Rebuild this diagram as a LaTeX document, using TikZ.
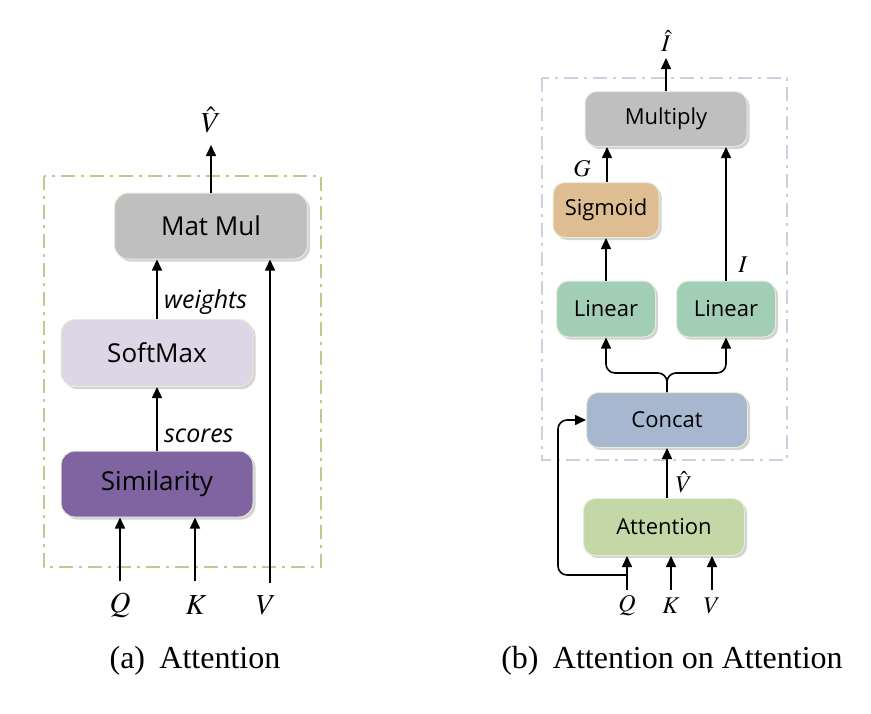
\documentclass[tikz,border=0pt]{standalone}
\usepackage{mathptmx}
\usepackage[no-math]{fontspec}
\setmainfont{Liberation Serif}
\newfontfamily\boxfont{Open Sans}
\usetikzlibrary{arrows.meta,shadows}

\definecolor{boxgray}{HTML}{BFBFBF}
\definecolor{softlav}{HTML}{DCD6E6}
\definecolor{simpurple}{HTML}{8064A2}
\definecolor{sigtan}{HTML}{DFBD93}
\definecolor{lingreen}{HTML}{A3CEB6}
\definecolor{catblue}{HTML}{A6B7CF}
\definecolor{attgreen}{HTML}{C4D7A6}
\definecolor{framegreen}{HTML}{B9CC8E}
\definecolor{frameblue}{HTML}{C8D3DF}
\definecolor{glow}{HTML}{E8ECD6}

\begin{document}
\begin{tikzpicture}
[x=1pt,y=-1pt,%
  arr/.style={-{Triangle[length=11pt,width=10pt]},line width=1.6pt},%
  block/.style={rounded corners=14pt,inner sep=0pt,draw=glow,line width=1pt,
    drop shadow={opacity=0.35,shadow xshift=2.5pt,shadow yshift=-2.5pt}},%
  bigblock/.style={block,font=\boxfont\fontsize{26}{30}\selectfont},%
  smallblock/.style={block,rounded corners=12pt,font=\boxfont\fontsize{22}{26}\selectfont},%
  symbig/.style={inner sep=0pt,font=\fontsize{29}{31}\selectfont},%
  symsmall/.style={inner sep=0pt,font=\fontsize{24}{26}\selectfont},%
  flowlabel/.style={inner sep=0pt,anchor=west,font=\boxfont\itshape\fontsize{25}{28}\selectfont},%
  caption/.style={inner sep=0pt,font=\fontsize{32}{36}\selectfont}]
\useasboundingbox (0,0) rectangle (871,713);

% (a) attention
\draw[framegreen,line width=1.8pt,dash pattern=on 14pt off 6pt on 3pt off 6pt]
  (44,176) rectangle (321,567);
\node[bigblock,fill=boxgray,minimum width=193pt,minimum height=66pt] (matmul) at (211,226) {Mat Mul};
\node[bigblock,fill=softlav,minimum width=192pt,minimum height=67pt] (softmax) at (157,353) {SoftMax};
\node[bigblock,fill=simpurple,minimum width=192pt,minimum height=66pt] (sim) at (157,484) {Similarity};

\coordinate (outa) at (211,145);
\coordinate (qa) at (120,581);
\coordinate (ka) at (195,581);
\coordinate (va) at (270,583);
\node[symbig] at (211,120) {$\hat{V}$};
\node[symbig] at (120,605) {$Q$};
\node[symbig] at (196,605) {$K$};
\node[symbig] at (266,605) {$V$};

\draw[arr] (matmul.north) -- (outa);
\draw[arr] (softmax.north) -- (matmul.south -| softmax.north);
\draw[arr] (sim.north) -- (softmax.south);
\draw[arr] (qa) -- (sim.south -| qa);
\draw[arr] (ka) -- (sim.south -| ka);
\draw[arr] (va) -- (matmul.south -| va);
\node[flowlabel] at (164,302) {weights};
\node[flowlabel] at (164,436) {scores};

\node[caption] at (195,661) {(a)\hspace{0.45em}Attention};

% (b) attention on attention
\draw[frameblue,line width=1.4pt,dash pattern=on 14pt off 6pt on 3pt off 6pt]
  (542,78) rectangle (787,460);
\node[smallblock,fill=boxgray,minimum width=162pt,minimum height=55pt] (mult) at (666,119) {Multiply};
\node[smallblock,fill=sigtan,minimum width=106pt,minimum height=55pt] (sigm) at (606,210) {Sigmoid};
\node[smallblock,fill=lingreen,minimum width=99pt,minimum height=56pt] (linl) at (606,309) {Linear};
\node[smallblock,fill=lingreen,minimum width=99pt,minimum height=56pt] (linr) at (726,309) {Linear};
\node[smallblock,fill=catblue,minimum width=161pt,minimum height=55pt] (concat) at (667,420) {Concat};
\node[smallblock,fill=attgreen,minimum width=161pt,minimum height=57pt] (att) at (664,527) {Attention};

\coordinate (outb) at (666,58);
\coordinate (split) at (667,373);
\coordinate (qb) at (627,590);
\coordinate (kb) at (671,590);
\coordinate (vb) at (712,590);
\coordinate (qfork) at (627,575);
\coordinate (loopc) at (558,420);
\node[symsmall] at (666,41) {$\hat{I}$};
\node[symsmall] at (582,169) {$G$};
\node[symsmall] at (743,265) {$I$};
\node[symsmall] at (684,482) {$\hat{V}$};
\node[symsmall] at (627,606) {$Q$};
\node[symsmall] at (671,606) {$K$};
\node[symsmall] at (712,606) {$V$};

\draw[arr] (mult.north) -- (outb);
\draw[arr] (sigm.north -| 607,0) -- (mult.south -| 607,0);
\draw[arr] (linl.north) -- (sigm.south);
\draw[arr] (linr.north) -- (mult.south -| linr.north);
\draw[arr,rounded corners=9pt] (concat.north) -- (split) -| (linl.south);
\draw[arr,rounded corners=9pt] (concat.north) -- (split) -| (linr.south);
\draw[arr] (att.north -| concat.north) -- (concat.south);
\draw[arr] (qb) -- (att.south -| qb);
\draw[arr] (kb) -- (att.south -| kb);
\draw[arr] (vb) -- (att.south -| vb);
\draw[arr,rounded corners=9pt] (qfork) -| (loopc) -- (concat.west);

\node[caption] at (672,661) {(b)\hspace{0.45em}Attention on Attention};
\end{tikzpicture}
\end{document}
